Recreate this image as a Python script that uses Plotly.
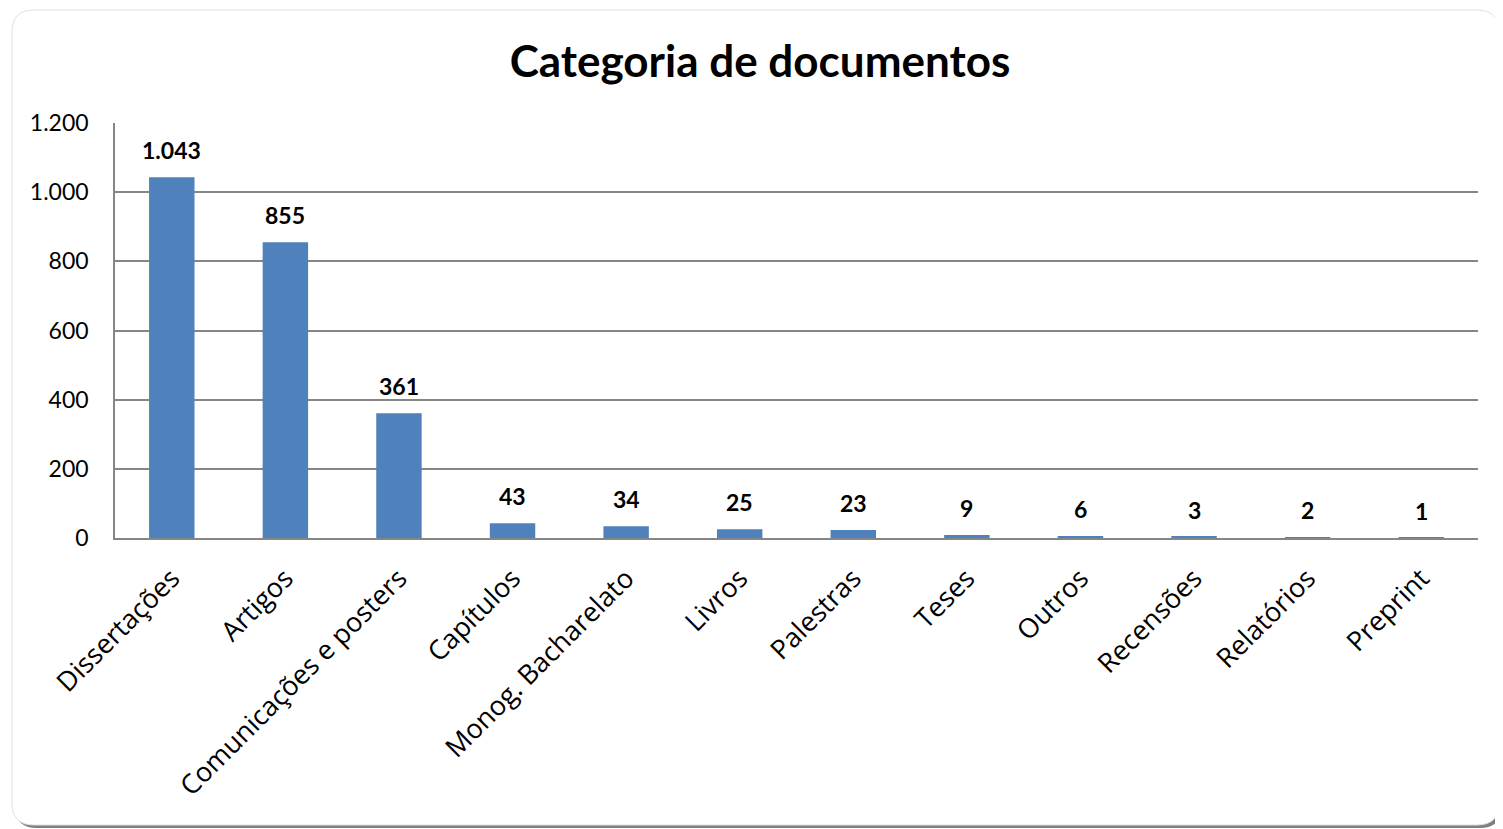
import plotly.graph_objects as go

# Categories and document counts
CATEGORIES = ["Dissertações", "Artigos", "Comunicações e posters", "Capítulos",
              "Monog. Bacharelato", "Livros", "Palestras", "Teses", "Outros",
              "Recensões", "Relatórios", "Preprint"]
COUNTS = [1043, 855, 361, 43, 34, 25, 23, 9, 6, 3, 2, 1]
Y_TICKS = [0, 200, 400, 600, 800, 1000, 1200]

BAR = "#4F81BD"
GRID = "#868686"
INK = "#000000"
FONT = "Lato, Calibri, Carlito, sans-serif"
LABEL_FONT = "'Open Sans', 'Segoe UI', sans-serif"

# figure sits at (8, 8) in the page because of the body margin
W, H = 1495, 821
L, R, T, B = 107, 25, 115, 291  # plot margins in px


def px(x, y):
    """figure pixel -> paper coords"""
    return (x - L) / (W - L - R), (H - B - y) / (H - T - B)


def rounded_rect(x0, y0, x1, y1, r):
    pts = []
    a = px(x0 + r, y0); pts.append(f"M{a[0]},{a[1]}")
    a = px(x1 - r, y0); pts.append(f"L{a[0]},{a[1]}")
    c, e = px(x1, y0), px(x1, y0 + r); pts.append(f"Q{c[0]},{c[1]} {e[0]},{e[1]}")
    a = px(x1, y1 - r); pts.append(f"L{a[0]},{a[1]}")
    c, e = px(x1, y1), px(x1 - r, y1); pts.append(f"Q{c[0]},{c[1]} {e[0]},{e[1]}")
    a = px(x0 + r, y1); pts.append(f"L{a[0]},{a[1]}")
    c, e = px(x0, y1), px(x0, y1 - r); pts.append(f"Q{c[0]},{c[1]} {e[0]},{e[1]}")
    a = px(x0, y0 + r); pts.append(f"L{a[0]},{a[1]}")
    c, e = px(x0, y0), px(x0 + r, y0); pts.append(f"Q{c[0]},{c[1]} {e[0]},{e[1]}")
    return " ".join(pts) + " Z"


fig = go.Figure()
fig.add_bar(x=CATEGORIES, y=COUNTS, marker=dict(color=BAR, line=dict(width=0)),
            width=0.4, showlegend=False, hoverinfo="x+y")

# value labels above each bar
for cat, n in zip(CATEGORIES, COUNTS):
    fig.add_annotation(x=cat, y=n, text=f"{n:,}".replace(",", "."),
                       showarrow=False, yanchor="middle", yshift=27,
                       font=dict(size=23, color=INK, family=FONT, weight="bold"))

# chart frame: soft shadow then white rounded panel
fig.add_shape(type="path", xref="paper", yref="paper", layer="below",
              path=rounded_rect(7, 6, 1494, 820, 22),
              fillcolor="#808080", line=dict(width=0))
fig.add_shape(type="path", xref="paper", yref="paper", layer="below",
              path=rounded_rect(4, 2, 1491, 817, 22),
              fillcolor="white", line=dict(color="#e0e0e0", width=1))

fig.update_layout(
    width=W, height=H, paper_bgcolor="white", plot_bgcolor="rgba(0,0,0,0)",
    margin=dict(l=L, r=R, t=T, b=B), separators=",.",
    font=dict(family=FONT, size=23, color=INK),
    title=dict(text="<b>Categoria de documentos</b>", x=0.503, xanchor="center",
               y=1 - 54 / H, yanchor="middle", font=dict(size=44)),
    bargap=0.6,
)
fig.update_xaxes(tickangle=-45, showline=True, linecolor=GRID, linewidth=1.5,
                 showgrid=False, ticks="", ticklabelstandoff=12,
                 tickfont=dict(size=27, family=LABEL_FONT))
fig.update_yaxes(range=[0, 1200], tickvals=Y_TICKS, tickformat=",.0f",
                 showgrid=True, gridcolor=GRID, gridwidth=1.5,
                 showline=True, linecolor=GRID, linewidth=1.5,
                 zeroline=False, ticks="", ticklabelstandoff=20,
                 tickfont=dict(size=23))

fig.write_html("out.html")
